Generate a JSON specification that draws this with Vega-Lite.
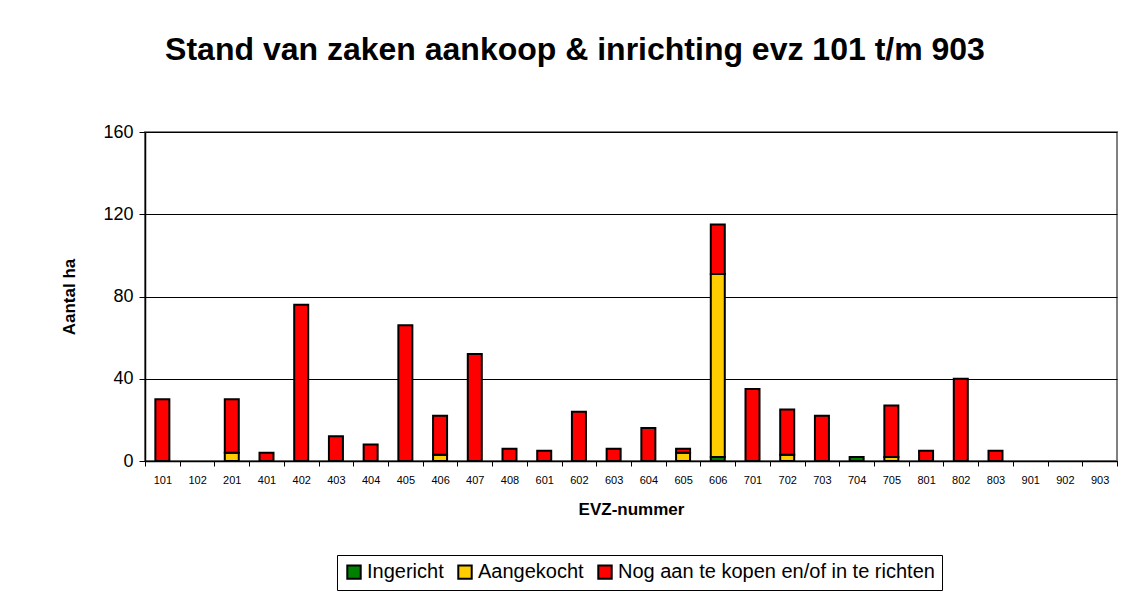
{
  "$schema": "https://vega.github.io/schema/vega-lite/v6.json",
  "width": 972,
  "height": 329,
  "autosize": {"type": "none"},
  "padding": {"left": 145, "top": 132, "right": 10, "bottom": 136},
  "background": "white",
  "title": {
    "text": "Stand van zaken aankoop & inrichting evz 101 t/m 903",
    "font": "Liberation Sans",
    "fontSize": 32,
    "fontWeight": "bold",
    "color": "black",
    "anchor": "middle",
    "dx": -56,
    "offset": 56
  },
  "data": {
    "values": [
      {"evz": "101", "cat": "Nog aan te kopen en/of in te richten", "o": 3, "v": 30},
      {"evz": "201", "cat": "Aangekocht", "o": 2, "v": 4},
      {"evz": "201", "cat": "Nog aan te kopen en/of in te richten", "o": 3, "v": 26},
      {"evz": "401", "cat": "Nog aan te kopen en/of in te richten", "o": 3, "v": 4},
      {"evz": "402", "cat": "Nog aan te kopen en/of in te richten", "o": 3, "v": 76},
      {"evz": "403", "cat": "Nog aan te kopen en/of in te richten", "o": 3, "v": 12},
      {"evz": "404", "cat": "Nog aan te kopen en/of in te richten", "o": 3, "v": 8},
      {"evz": "405", "cat": "Nog aan te kopen en/of in te richten", "o": 3, "v": 66},
      {"evz": "406", "cat": "Aangekocht", "o": 2, "v": 3},
      {"evz": "406", "cat": "Nog aan te kopen en/of in te richten", "o": 3, "v": 19},
      {"evz": "407", "cat": "Nog aan te kopen en/of in te richten", "o": 3, "v": 52},
      {"evz": "408", "cat": "Nog aan te kopen en/of in te richten", "o": 3, "v": 6},
      {"evz": "601", "cat": "Nog aan te kopen en/of in te richten", "o": 3, "v": 5},
      {"evz": "602", "cat": "Nog aan te kopen en/of in te richten", "o": 3, "v": 24},
      {"evz": "603", "cat": "Nog aan te kopen en/of in te richten", "o": 3, "v": 6},
      {"evz": "604", "cat": "Nog aan te kopen en/of in te richten", "o": 3, "v": 16},
      {"evz": "605", "cat": "Aangekocht", "o": 2, "v": 4},
      {"evz": "605", "cat": "Nog aan te kopen en/of in te richten", "o": 3, "v": 2},
      {"evz": "606", "cat": "Ingericht", "o": 1, "v": 2},
      {"evz": "606", "cat": "Aangekocht", "o": 2, "v": 89},
      {"evz": "606", "cat": "Nog aan te kopen en/of in te richten", "o": 3, "v": 24},
      {"evz": "701", "cat": "Nog aan te kopen en/of in te richten", "o": 3, "v": 35},
      {"evz": "702", "cat": "Aangekocht", "o": 2, "v": 3},
      {"evz": "702", "cat": "Nog aan te kopen en/of in te richten", "o": 3, "v": 22},
      {"evz": "703", "cat": "Nog aan te kopen en/of in te richten", "o": 3, "v": 22},
      {"evz": "704", "cat": "Ingericht", "o": 1, "v": 2},
      {"evz": "705", "cat": "Aangekocht", "o": 2, "v": 2},
      {"evz": "705", "cat": "Nog aan te kopen en/of in te richten", "o": 3, "v": 25},
      {"evz": "801", "cat": "Nog aan te kopen en/of in te richten", "o": 3, "v": 5},
      {"evz": "802", "cat": "Nog aan te kopen en/of in te richten", "o": 3, "v": 40},
      {"evz": "803", "cat": "Nog aan te kopen en/of in te richten", "o": 3, "v": 5}
    ]
  },
  "mark": {"type": "bar", "stroke": "black", "strokeWidth": 2, "width": 14},
  "encoding": {
    "x": {
      "field": "evz",
      "type": "nominal",
      "sort": null,
      "scale": {
        "domain": ["101", "102", "201", "401", "402", "403", "404", "405", "406", "407", "408", "601", "602", "603", "604", "605", "606", "701", "702", "703", "704", "705", "801", "802", "803", "901", "902", "903"],
        "paddingInner": 0,
        "paddingOuter": 0
      },
      "axis": {
        "title": "EVZ-nummer",
        "titleFont": "Liberation Sans",
        "titleFontSize": 17,
        "titleFontWeight": "bold",
        "titleColor": "black",
        "titlePadding": 16,
        "labelAngle": 0,
        "labelFont": "Liberation Sans",
        "labelFontSize": 11,
        "labelColor": "black",
        "labelPadding": 8,
        "tickBand": "extent",
        "tickColor": "black",
        "tickSize": 5,
        "domainColor": "black",
        "domainWidth": 1.5
      }
    },
    "y": {
      "field": "v",
      "type": "quantitative",
      "stack": "zero",
      "scale": {"domain": [0, 160], "nice": false},
      "axis": {
        "title": "Aantal ha",
        "titleFont": "Liberation Sans",
        "titleFontSize": 17,
        "titleFontWeight": "bold",
        "titleColor": "black",
        "titlePadding": 24,
        "values": [0, 40, 80, 120, 160],
        "labelFont": "Liberation Sans",
        "labelFontSize": 18,
        "labelColor": "black",
        "labelPadding": 6,
        "tickColor": "black",
        "tickSize": 6,
        "domainColor": "black",
        "domainWidth": 1.5,
        "grid": true,
        "gridColor": "black",
        "gridWidth": 1
      }
    },
    "color": {
      "field": "cat",
      "type": "nominal",
      "scale": {
        "domain": ["Ingericht", "Aangekocht", "Nog aan te kopen en/of in te richten"],
        "range": ["#008000", "#FFCC00", "#FF0000"]
      },
      "legend": {
        "title": null,
        "orient": "none",
        "legendX": 192,
        "legendY": 423,
        "direction": "horizontal",
        "symbolType": "square",
        "symbolSize": 180,
        "symbolStrokeColor": "black",
        "symbolStrokeWidth": 2,
        "labelFont": "Liberation Sans",
        "labelFontSize": 20,
        "labelColor": "black",
        "labelLimit": 0,
        "labelOffset": 3,
        "columnPadding": 10,
        "padding": 7,
        "strokeColor": "black",
        "fillColor": "white"
      }
    },
    "order": {"field": "o", "type": "quantitative"}
  },
  "config": {
    "view": {"stroke": "#808080", "strokeWidth": 2}
  }
}
